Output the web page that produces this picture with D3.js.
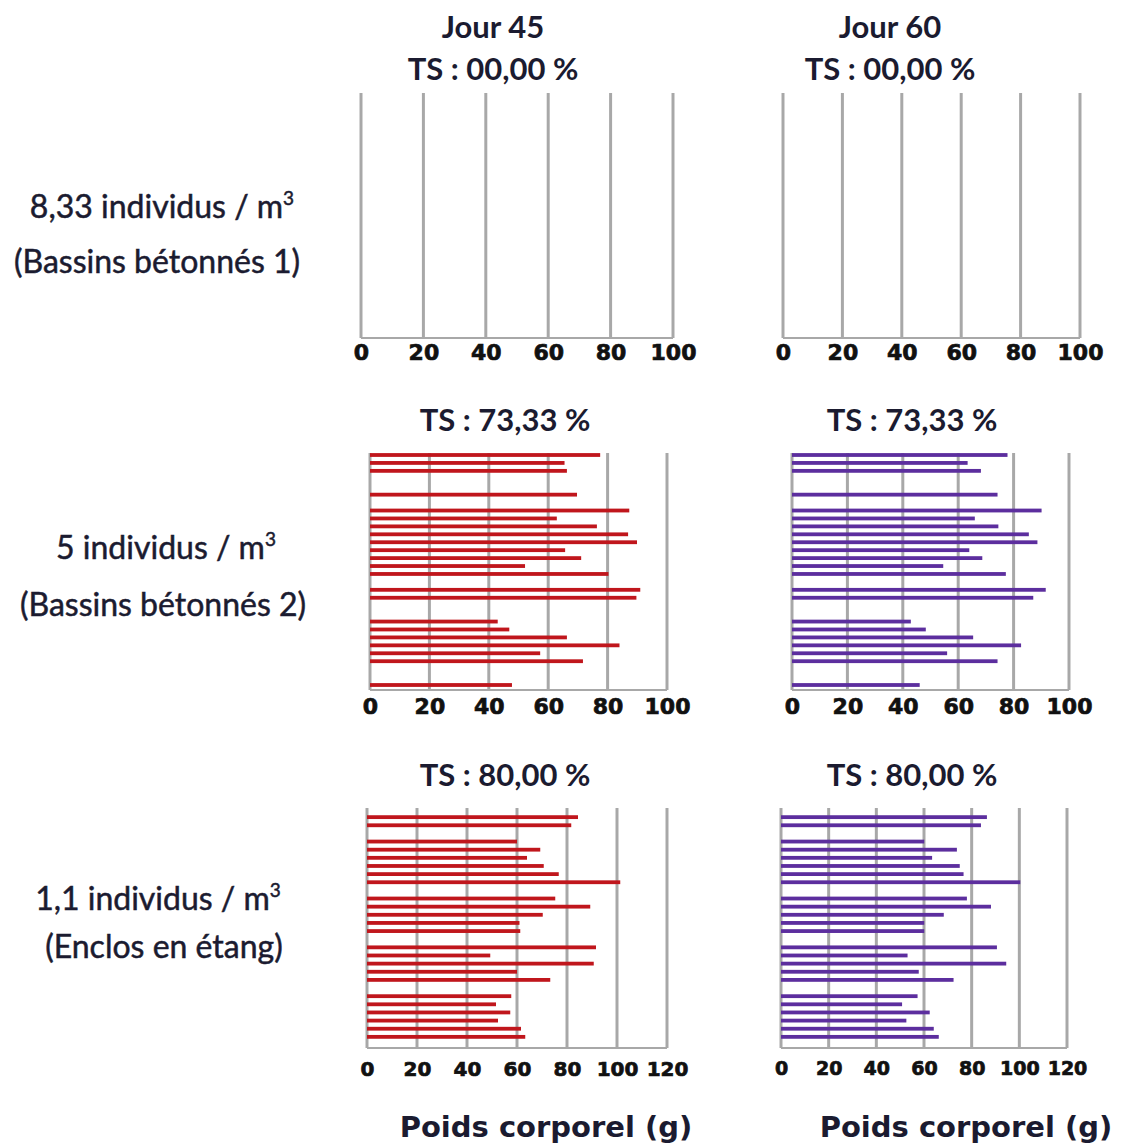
<!DOCTYPE html>
<html>
<head>
<meta charset="utf-8">
<script src="https://cdn.jsdelivr.net/npm/d3@7"></script>
<style>
  html, body { margin: 0; padding: 0; background: #ffffff; }
  svg { display: block; }
</style>
</head>
<body>
<svg id="chart" width="1124" height="1145"></svg>
<script>
// ---------------- DATA ----------------
const dayTitles = ["Jour 45", "Jour 60"];
const survivalLabels = ["TS : 00,00 %", "TS : 73,33 %", "TS : 80,00 %"];
const densityLabels = ["8,33 individus / m", "5 individus / m", "1,1 individus / m"];
const systemLabels = ["(Bassins bétonnés 1)", "(Bassins bétonnés 2)", "(Enclos en étang)"];
const xAxisTitle = "Poids corporel (g)";
const ticks100 = [0, 20, 40, 60, 80, 100];
const ticks120 = [0, 20, 40, 60, 80, 100, 120];

// body weight (g) of each fish; null = dead fish (no bar)
const weightJ45_d833 = [];   // no survivors
const weightJ60_d833 = [];   // no survivors
const weightJ45_d5 = [77.5, 65.5, 66.3, null, null, 69.7, null, 87.3, 62.9, 76.4,
                      86.9, 89.9, 65.7, 71.1, 52.2, 80.3, null, 91.0, 89.7, null,
                      null, 43.0, 46.9, 66.3, 84.0, 57.3, 71.7, null, null, 47.8];
const weightJ60_d5 = [77.8, 63.4, 68.2, null, null, 74.2, null, 90.1, 66.0, 74.5,
                      85.5, 88.6, 64.0, 68.7, 54.6, 77.2, null, 91.6, 87.1, null,
                      null, 42.9, 48.3, 65.4, 82.7, 56.0, 74.2, null, null, 46.1];
const weightJ45_d11 = [null, 84.4, 81.7, null, 60.0, 69.3, 64.0, 70.7, 76.7, 101.3,
                       null, 75.3, 89.3, 70.3, 61.0, 61.3, null, 91.6, 49.3, 90.7,
                       60.0, 73.3, null, 57.7, 51.6, 57.3, 52.4, 61.6, 63.3, null];
const weightJ60_d11 = [null, 86.4, 83.9, null, 60.1, 73.8, 63.4, 75.0, 76.6, 100.4,
                       null, 78.0, 88.1, 68.3, 60.1, 60.1, null, 90.6, 53.1, 94.5,
                       57.8, 72.4, null, 57.3, 50.8, 62.4, 52.6, 64.1, 66.2, null];
const nFish = 30;

// ---------------- LAYOUT ----------------
const svg = d3.select("#chart");
const RED = "#c0161c", PURPLE = "#5c2e9e";
const GRID = "#a8a8a8";
const TEXT = "#1b1b30";

const panels = [
  { data: weightJ45_d833, ticks: ticks100, x0: 361, x1: 673, top: 93,  base: 338, s0: 95,  s1: 335, color: RED, pad: 6, fs: 22 },
  { data: weightJ60_d833, ticks: ticks100, x0: 783, x1: 1080, top: 93, base: 338, s0: 95,  s1: 335, color: PURPLE, pad: 6, fs: 22 },
  { data: weightJ45_d5,   ticks: ticks100, x0: 370, x1: 667, top: 453, base: 690, s0: 455, s1: 685, color: RED, pad: 8, fs: 22 },
  { data: weightJ60_d5,   ticks: ticks100, x0: 792, x1: 1069, top: 453, base: 690, s0: 455, s1: 685, color: PURPLE, pad: 8, fs: 22 },
  { data: weightJ45_d11,  ticks: ticks120, x0: 367, x1: 667, top: 808, base: 1048, s0: 809, s1: 1045, color: RED, pad: 14, fs: 20 },
  { data: weightJ60_d11,  ticks: ticks120, x0: 781, x1: 1067, top: 808, base: 1048, s0: 809, s1: 1045, color: PURPLE, pad: 14, fs: 19 }
];

panels.forEach(p => {
  const g = svg.append("g");
  const tmax = p.ticks[p.ticks.length - 1];
  const x = d3.scaleLinear().domain([0, tmax]).range([p.x0, p.x1]);
  const y = d3.scalePoint().domain(d3.range(nFish)).range([p.s0, p.s1]);

  g.selectAll("line.grid").data(p.ticks).join("line")
    .attr("class", "grid")
    .attr("x1", d => x(d)).attr("x2", d => x(d))
    .attr("y1", p.top).attr("y2", p.base)
    .attr("stroke", GRID).attr("stroke-width", 3);
  g.append("line")
    .attr("x1", p.x0).attr("x2", p.x1)
    .attr("y1", p.base).attr("y2", p.base)
    .attr("stroke", GRID).attr("stroke-width", 2);

  const fish = p.data.map((v, i) => ({ i, v })).filter(d => d.v != null);
  g.selectAll("rect.bar").data(fish).join("rect")
    .attr("class", "bar")
    .attr("x", x(0))
    .attr("y", d => y(d.i) - 1.9)
    .attr("width", d => x(d.v) - x(0))
    .attr("height", 3.8)
    .attr("fill", p.color);

  const ax = g.append("g")
    .attr("class", "xaxis")
    .attr("transform", `translate(0,${p.base})`)
    .call(d3.axisBottom(x).tickValues(p.ticks).tickSize(0).tickPadding(p.pad));
  ax.select(".domain").remove();
  ax.attr("font-size", p.fs).attr("font-family", "'DejaVu Sans', sans-serif");
  ax.selectAll("text")
    .attr("font-family", "'DejaVu Sans', sans-serif")
    .attr("font-weight", "bold")
    .attr("font-size", p.fs)
    .attr("fill", "#111")
    .attr("stroke", "#111")
    .attr("stroke-width", 0.7);
});

// column titles
const colCenters = [493, 890];
const colCentersLow = [505, 912];
const titleFont = (sel) => sel
  .attr("text-anchor", "middle")
  .attr("font-family", "Lato, 'Open Sans', sans-serif")
  .attr("font-weight", "bold")
  .attr("font-size", 31)
  .attr("fill", TEXT);
dayTitles.forEach((t, i) => {
  svg.append("text").attr("x", colCenters[i]).attr("y", 38).text(t).call(titleFont);
  svg.append("text").attr("x", colCenters[i]).attr("y", 80).text(survivalLabels[0]).call(titleFont);
  svg.append("text").attr("x", colCentersLow[i]).attr("y", 431).text(survivalLabels[1]).call(titleFont);
  svg.append("text").attr("x", colCentersLow[i]).attr("y", 786).text(survivalLabels[2]).call(titleFont);
});

// row labels
const rowY1 = [218, 559, 910];
const rowY2 = [273, 616, 958];
const rowX1 = [162, 166, 158];
const rowX2 = [157, 163, 164];
const rowFont = (sel) => sel
  .attr("text-anchor", "middle")
  .attr("font-family", "Lato, 'Open Sans', sans-serif")
  .attr("font-size", 32)
  .attr("fill", TEXT)
  .attr("stroke", TEXT)
  .attr("stroke-width", 0.5);
densityLabels.forEach((t, i) => {
  const tx = svg.append("text")
    .attr("x", rowX1[i]).attr("y", rowY1[i]).call(rowFont);
  tx.append("tspan").text(t);
  tx.append("tspan").attr("dy", -13).attr("font-size", 19).text("3");
  svg.append("text")
    .attr("x", rowX2[i]).attr("y", rowY2[i]).call(rowFont)
    .text(systemLabels[i]);
});

// x-axis titles
[546, 966].forEach(cx => {
  svg.append("text")
    .attr("x", cx).attr("y", 1137)
    .attr("text-anchor", "middle")
    .attr("font-family", "'DejaVu Sans', sans-serif")
    .attr("font-weight", "bold")
    .attr("font-size", 29)
    .attr("fill", TEXT)
    .text(xAxisTitle);
});
</script>
</body>
</html>
